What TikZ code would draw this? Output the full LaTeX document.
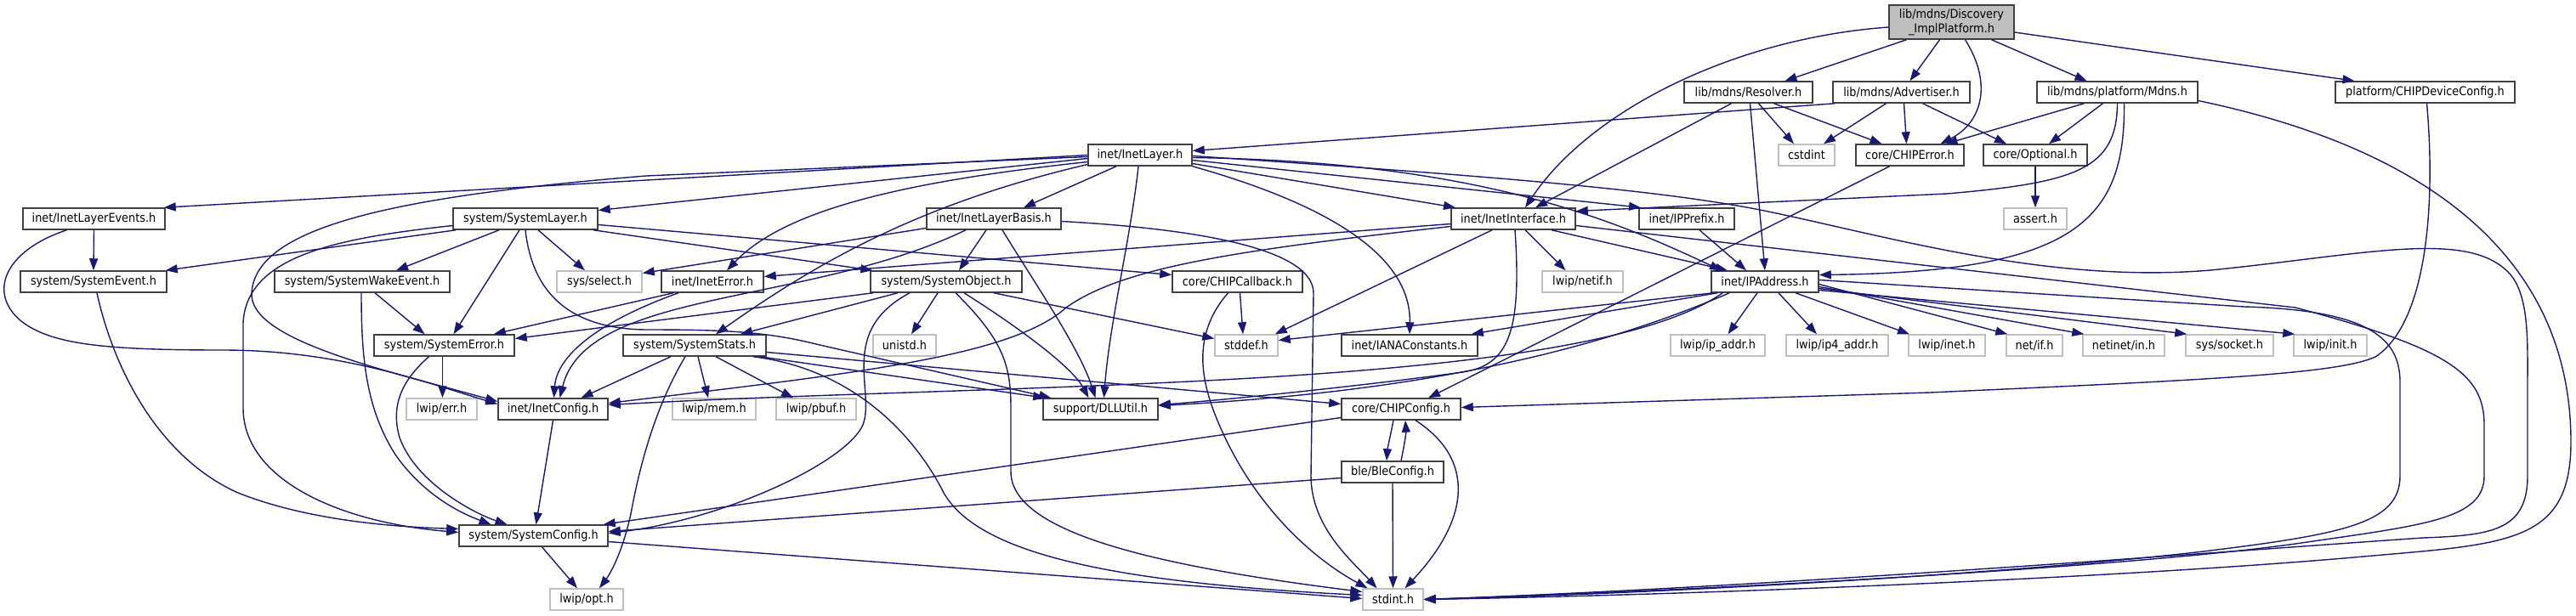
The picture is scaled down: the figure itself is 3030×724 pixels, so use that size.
\documentclass[tikz,border=0pt]{standalone}
\usepackage{fontspec}
\setmainfont{DejaVu Sans Condensed}
\usetikzlibrary{arrows.meta}
\definecolor{edgec}{HTML}{191970}
\definecolor{boxk}{HTML}{404040}
\definecolor{extg}{HTML}{BFBFBF}
\begin{document}
\begin{tikzpicture}[x=1pt,y=-1pt,
  nb/.style={draw=boxk, line width=1.5pt, fill=white, minimum height=25pt, inner sep=0pt, font=\fontsize{14.3}{16.5}\selectfont},
  ext/.style={nb, draw=extg},
  dep/.style={draw=edgec, line width=1.4pt, -{Triangle[length=14pt,width=10pt]}},
]
\useasboundingbox[fill=white] (0,0) rectangle (3030,724);
% nodes
\node[nb, fill=extg, minimum width=147pt, minimum height=40pt, align=center] (top) at (2295.5,26) {lib/mdns/Discovery\\\_ImplPlatform.h};
\node[nb, minimum width=151pt] (res) at (2056.5,108.5) {lib/mdns/Resolver.h};
\node[nb, minimum width=161pt] (adv) at (2236.5,108.5) {lib/mdns/Advertiser.h};
\node[nb, minimum width=189pt] (mdns) at (2490.5,108.5) {lib/mdns/platform/Mdns.h};
\node[nb, minimum width=211pt] (devcfg) at (2852.5,108.5) {platform/CHIPDeviceConfig.h};
\node[nb, minimum width=122pt] (inetlayer) at (1341,182.5) {inet/InetLayer.h};
\node[ext, minimum width=66pt] (cstdint) at (2125,182.5) {cstdint};
\node[nb, minimum width=127pt] (chiperr) at (2246.5,182.5) {core/CHIPError.h};
\node[nb, minimum width=122pt] (optional) at (2394,182.5) {core/Optional.h};
\node[nb, minimum width=167pt] (events) at (110.5,257.5) {inet/InetLayerEvents.h};
\node[nb, minimum width=170pt] (syslayer) at (618,257.5) {system/SystemLayer.h};
\node[nb, minimum width=158pt] (basis) at (1169,257.5) {inet/InetLayerBasis.h};
\node[nb, minimum width=146pt] (iface) at (1780,257.5) {inet/InetInterface.h};
\node[nb, minimum width=112pt] (prefix) at (1984,257.5) {inet/IPPrefix.h};
\node[ext, minimum width=74pt] (assert) at (2394,257.5) {assert.h};
\node[nb, minimum width=172pt] (sysevent) at (110,331.5) {system/SystemEvent.h};
\node[nb, minimum width=206pt] (wake) at (426,331.5) {system/SystemWakeEvent.h};
\node[ext, minimum width=100pt] (select) at (705,331.5) {sys/select.h};
\node[nb, minimum width=120pt] (ineterr) at (838,331.5) {inet/InetError.h};
\node[nb, minimum width=178pt] (sysobj) at (1113,331.5) {system/SystemObject.h};
\node[nb, minimum width=153pt] (callback) at (1455.5,331.5) {core/CHIPCallback.h};
\node[ext, minimum width=95pt] (netif) at (1861.5,331.5) {lwip/netif.h};
\node[nb, minimum width=126pt] (ipaddr) at (2076,331.5) {inet/IPAddress.h};
\node[nb, minimum width=165pt] (syserr) at (522.5,406.5) {system/SystemError.h};
\node[nb, minimum width=168pt] (stats) at (817,406.5) {system/SystemStats.h};
\node[ext, minimum width=74pt] (unistd) at (1064,406.5) {unistd.h};
\node[ext, minimum width=74pt] (stddef) at (1466,406.5) {stddef.h};
\node[nb, minimum width=160pt] (iana) at (1658,406.5) {inet/IANAConstants.h};
\node[ext, minimum width=111pt] (ipaddrh) at (2020.5,406.5) {lwip/ip\_addr.h};
\node[ext, minimum width=120pt] (ip4) at (2161,406.5) {lwip/ip4\_addr.h};
\node[ext, minimum width=90pt] (lwinet) at (2290,406.5) {lwip/inet.h};
\node[ext, minimum width=66pt] (netif2) at (2393,406.5) {net/if.h};
\node[ext, minimum width=96pt] (netin) at (2498,406.5) {netinet/in.h};
\node[ext, minimum width=103pt] (socket) at (2622.5,406.5) {sys/socket.h};
\node[ext, minimum width=86pt] (init) at (2741,406.5) {lwip/init.h};
\node[ext, minimum width=83pt] (err) at (519.5,481.5) {lwip/err.h};
\node[nb, minimum width=129pt] (inetcfg) at (650.5,481.5) {inet/InetConfig.h};
\node[ext, minimum width=98pt] (mem) at (840,481.5) {lwip/mem.h};
\node[ext, minimum width=94pt] (pbuf) at (960,481.5) {lwip/pbuf.h};
\node[nb, minimum width=135pt] (dll) at (1294.5,481.5) {support/DLLUtil.h};
\node[nb, minimum width=140pt] (chipcfg) at (1648,481.5) {core/CHIPConfig.h};
\node[nb, minimum width=120pt] (ble) at (1638,555.5) {ble/BleConfig.h};
\node[nb, minimum width=175pt] (syscfg) at (627.5,630.5) {system/SystemConfig.h};
\node[ext, minimum width=86pt] (opt) at (690,705.5) {lwip/opt.h};
\node[ext, minimum width=71pt] (stdint) at (1638.5,705.5) {stdint.h};
% top
\draw[dep] ([xshift=-53]top.south) -- ([xshift=43]res.north);
\draw[dep] ([xshift=-14]top.south) -- ([xshift=10]adv.north);
\draw[dep] ([yshift=-6]top.west) .. controls (2040,45) and (1870,130) .. ([xshift=14]iface.north);
\draw[dep] ([xshift=16]top.south) .. controls (2345,100) and (2330,145) .. ([xshift=36]chiperr.north);
\draw[dep] ([xshift=47]top.south) -- ([xshift=-36]mdns.north);
\draw[dep] ([yshift=-12]top.east) -- ([xshift=-83]devcfg.north);
% resolver
\draw[dep] ([xshift=-20]res.south) -- ([xshift=26]iface.north);
\draw[dep] ([xshift=2]res.south) -- (ipaddr.north);
\draw[dep] ([xshift=12]res.south) -- ([xshift=-15]cstdint.north);
\draw[dep] ([xshift=30]res.south) -- ([xshift=-33]chiperr.north);
% advertiser
\draw[dep] ([xshift=3]adv.south west) -- ([yshift=5]inetlayer.east);
\draw[dep] ([xshift=-18]adv.south) -- ([xshift=20]cstdint.north);
\draw[dep] ([xshift=3]adv.south) -- ([xshift=-4]chiperr.north);
\draw[dep] ([xshift=25]adv.south) -- ([xshift=-34]optional.north);
% mdns
\draw[dep] ([xshift=-39]mdns.south) -- ([xshift=42]chiperr.north);
\draw[dep] ([xshift=-17]mdns.south) -- ([xshift=16]optional.north);
\draw[dep] (mdns.south) .. controls (2490,200) and (2440,215) .. (2290,228) -- ([yshift=9]iface.east);
\draw[dep] ([xshift=8]mdns.south) .. controls (2500,260) and (2440,320) .. ([yshift=8]ipaddr.east);
\draw[dep] ([yshift=-10]mdns.east) .. controls (2880,180) and (3024,320) .. (3024,520) .. controls (3024,640) and (2950,640) .. (2780,655) .. controls (2500,680) and (2000,700) .. (stdint.east);
% devcfg, chiperr, optional
\draw[dep] ([xshift=2]devcfg.south) .. controls (2865,240) and (2855,380) .. (2794,420) .. controls (2750,440) and (2600,447) .. (2270,462) -- ([yshift=2]chipcfg.east);
\draw[dep] ([xshift=-24]chiperr.south) -- ([xshift=32]chipcfg.north);
\draw[dep] (optional.south) -- (assert.north);
% inet layer
\draw[dep] (inetlayer.west) -- ([xshift=-2]events.north east);
\draw[dep] ([yshift=-4]inetlayer.west) -- ([yshift=10]syslayer.east);
\draw[dep] ([yshift=-2]inetlayer.west) -- (760,207) .. controls (450,232) and (300,270) .. (296,345) .. controls (293,400) and (450,435) .. ([yshift=9]inetcfg.west);
\draw[dep] ([yshift=-8]inetlayer.west) .. controls (1050,215) and (920,250) .. ([xshift=17]ineterr.north);
\draw[dep] ([yshift=-11]inetlayer.west) .. controls (1080,240) and (960,310) .. ([xshift=25]stats.north);
\draw[dep] ([xshift=-28]inetlayer.south) -- ([xshift=35]basis.north);
\draw[dep] ([xshift=-2]inetlayer.south) .. controls (1330,280) and (1305,380) .. ([xshift=4]dll.north);
\draw[dep] ([yshift=-10]inetlayer.east) -- ([xshift=-68]iface.north);
\draw[dep] ([yshift=-6]inetlayer.east) -- ([xshift=-54]prefix.north);
\draw[dep] ([yshift=-3]inetlayer.east) .. controls (1750,190) and (1910,265) .. ([xshift=-51]ipaddr.north);
\draw[dep] (inetlayer.south east) .. controls (1560,240) and (1660,300) .. (iana.north);
\draw[dep] ([yshift=-1]inetlayer.east) .. controls (1800,210) and (1950,225) .. (2060,245) .. controls (2200,272) and (2400,335) .. (2600,318) .. controls (2780,300) and (2900,270) .. (2950,320) .. controls (2975,345) and (2973,400) .. (2973,450) -- (2973,560) .. controls (2973,625) and (2930,630) .. (2850,633) .. controls (2600,650) and (2100,690) .. (stdint.east);
% events
\draw[dep] (events.south) -- (sysevent.north);
\draw[dep] ([xshift=-32]events.south) .. controls (5,295) and (-15,345) .. (25,378) .. controls (60,405) and (120,412) .. (262,412) .. controls (400,412) and (500,450) .. ([yshift=6]inetcfg.west);
% system layer
\draw[dep] ([xshift=-82]syslayer.south) -- ([xshift=-2]sysevent.north east);
\draw[dep] ([xshift=-31]syslayer.south) -- ([xshift=40]wake.north);
\draw[dep] ([xshift=-7]syslayer.south) -- ([xshift=11]syserr.north);
\draw[dep] ([xshift=15]syslayer.south) -- ([xshift=-17]select.north);
\draw[dep] ([yshift=-8]syslayer.west) .. controls (400,280) and (290,300) .. (286,380) -- (286,480) .. controls (286,565) and (400,615) .. ([yshift=4]syscfg.west);
\draw[dep] (syslayer.south) .. controls (625,335) and (660,387) .. (760,388) .. controls (850,388) and (900,390) .. (960,405) -- ([xshift=10]dll.north west);
\draw[dep] ([xshift=80]syslayer.south) -- ([xshift=3]sysobj.north west);
\draw[dep] ([yshift=-7]syslayer.east) -- ([yshift=8]callback.west);
% basis
\draw[dep] ([yshift=-11]basis.west) -- ([yshift=10]select.east);
\draw[dep] ([xshift=-33]basis.south) .. controls (950,360) and (690,340) .. ([xshift=8]inetcfg.north);
\draw[dep] ([xshift=-9]basis.south) -- ([xshift=15]sysobj.north);
\draw[dep] ([xshift=10]basis.south) .. controls (1215,330) and (1270,410) .. ([xshift=-6]dll.north);
\draw[dep] ([yshift=-3]basis.east) .. controls (1420,270) and (1545,295) .. (1545,345) -- (1542,560) .. controls (1542,620) and (1590,660) .. ([xshift=-19]stdint.north);
% interface
\draw[dep] ([yshift=-6]iface.west) -- ([yshift=6]ineterr.east);
\draw[dep] ([yshift=-9]iface.west) .. controls (1450,295) and (1320,315) .. (1254,362) .. controls (1190,420) and (1000,440) .. ([yshift=7]inetcfg.east);
\draw[dep] ([xshift=-25]iface.south) -- ([xshift=-4]stddef.north east);
\draw[dep] ([xshift=2]iface.south) .. controls (1790,390) and (1775,430) .. (1720,438) .. controls (1620,452) and (1450,470) .. ([yshift=5]dll.east);
\draw[dep] ([xshift=14]iface.south) -- ([xshift=-20]netif.north);
\draw[dep] ([xshift=45]iface.south) -- ([xshift=-44]ipaddr.north);
\draw[dep] ([yshift=-8]iface.east) -- (2700,362) .. controls (2880,410) and (2922,440) .. (2922,500) -- (2922,560) .. controls (2922,612) and (2850,618) .. (2700,640) .. controls (2500,668) and (2000,695) .. (stdint.east);
\draw[dep] ([xshift=15]prefix.south) -- ([xshift=-22]ipaddr.north);
% ip address
\draw[dep] ([xshift=3]ipaddr.south west) -- ([yshift=6]stddef.east);
\draw[dep] ([xshift=8]ipaddr.south west) -- ([xshift=-8]iana.north east);
\draw[dep] ([xshift=14]ipaddr.south west) .. controls (1860,460) and (1200,450) .. ([yshift=5]inetcfg.east);
\draw[dep] ([xshift=22]ipaddr.south west) .. controls (1860,420) and (1650,462) .. ([yshift=4]dll.east);
\draw[dep] ([xshift=-9]ipaddr.south) -- ([xshift=12]ipaddrh.north);
\draw[dep] ([xshift=16]ipaddr.south) -- ([xshift=-24]ip4.north);
\draw[dep] ([xshift=36]ipaddr.south) -- ([xshift=-44]lwinet.north);
\draw[dep] ([yshift=-3]ipaddr.east) -- ([xshift=2]netif2.north west);
\draw[dep] ([yshift=-6]ipaddr.east) -- ([xshift=2]netin.north west);
\draw[dep] ([yshift=-8]ipaddr.east) -- ([xshift=2]socket.north west);
\draw[dep] ([yshift=-10]ipaddr.east) -- ([xshift=2]init.north west);
\draw[dep] ([yshift=2]ipaddr.east) -- (2640,361) .. controls (2790,365) and (2823,400) .. (2823,450) -- (2823,560) .. controls (2823,615) and (2760,628) .. (2600,648) .. controls (2400,672) and (2000,697) .. (stdint.east);
% inet error
\draw[dep] ([xshift=-46]ineterr.south) -- ([xshift=-25]syserr.north east);
\draw[dep] ([xshift=-40]ineterr.south) .. controls (700,380) and (655,420) .. ([xshift=1]inetcfg.north);
% system object
\draw[dep] ([xshift=-86]sysobj.south) -- ([yshift=8]syserr.east);
\draw[dep] ([xshift=-57]sysobj.south) -- ([xshift=54]stats.north);
\draw[dep] ([xshift=-43]sysobj.south) .. controls (985,390) and (1030,460) .. (1015,500) .. controls (995,545) and (850,612) .. ([yshift=3]syscfg.east);
\draw[dep] ([xshift=-10]sysobj.south) -- ([xshift=8]unistd.north);
\draw[dep] ([xshift=56]sysobj.south) -- ([yshift=8]stddef.west);
\draw[dep] ([xshift=21]sysobj.south) .. controls (1190,380) and (1260,430) .. ([xshift=-14]dll.north);
\draw[dep] ([xshift=11]sysobj.south) .. controls (1180,400) and (1189,430) .. (1189,480) -- (1189,555) .. controls (1189,625) and (1350,665) .. ([yshift=9]stdint.west);
% callback
\draw[dep] ([xshift=3]callback.south) -- ([xshift=-4]stddef.north);
\draw[dep] ([xshift=-11]callback.south) .. controls (1405,390) and (1410,440) .. (1430,490) .. controls (1470,590) and (1540,655) .. ([xshift=-30]stdint.north);
% stats
\draw[dep] ([xshift=-28]stats.south) -- ([xshift=33]inetcfg.north);
\draw[dep] ([xshift=-11]stats.south) .. controls (770,480) and (752,550) .. (742,605) .. controls (732,650) and (718,675) .. ([xshift=15]opt.north);
\draw[dep] ([xshift=4]stats.south) -- ([xshift=-7]mem.north);
\draw[dep] ([xshift=25]stats.south) -- ([xshift=-27]pbuf.north);
\draw[dep] ([xshift=-8]stats.south east) -- ([xshift=3]dll.north west);
\draw[dep] ([yshift=-8]stats.east) -- ([yshift=6]chipcfg.west);
\draw[dep] ([xshift=-16]stats.south east) .. controls (1010,435) and (1080,520) .. (1110,580) .. controls (1150,650) and (1300,685) .. ([yshift=5]stdint.west);
% system error, wake, event
\draw[dep] ([xshift=-2]syserr.south) -- ([xshift=1]err.north);
\draw[dep] ([xshift=-18]syserr.south) .. controls (470,450) and (460,480) .. (470,515) .. controls (490,570) and (560,605) .. ([xshift=-31]syscfg.north);
\draw[dep] ([xshift=-1]wake.south) .. controls (425,420) and (430,480) .. (465,535) .. controls (500,585) and (545,605) .. ([xshift=-50]syscfg.north);
\draw[dep] ([xshift=15]wake.south) -- ([xshift=-23]syserr.north);
\draw[dep] ([xshift=4]sysevent.south) .. controls (135,440) and (190,540) .. (280,580) .. controls (360,612) and (460,620) .. ([yshift=8]syscfg.west);
% config layer
\draw[dep] (inetcfg.south) -- ([xshift=3]syscfg.north);
\draw[dep] ([xshift=-9]chipcfg.south) .. controls (1636,510) and (1632,528) .. ([xshift=-7]ble.north);
\draw[dep] ([xshift=10]ble.north) .. controls (1651,528) and (1654,510) .. ([xshift=5]chipcfg.south);
\draw[dep] ([yshift=-10]chipcfg.west) -- ([xshift=-6]syscfg.north east);
\draw[dep] ([xshift=17]chipcfg.south) .. controls (1735,540) and (1730,610) .. ([xshift=14]stdint.north);
\draw[dep] ([yshift=-7]ble.west) -- ([yshift=5]syscfg.east);
\draw[dep] (ble.south) -- (stdint.north);
\draw[dep] ([xshift=10]syscfg.south) -- ([xshift=-11]opt.north);
\draw[dep] ([yshift=-7]syscfg.east) -- ([yshift=1]stdint.west);
\end{tikzpicture}
\end{document}
